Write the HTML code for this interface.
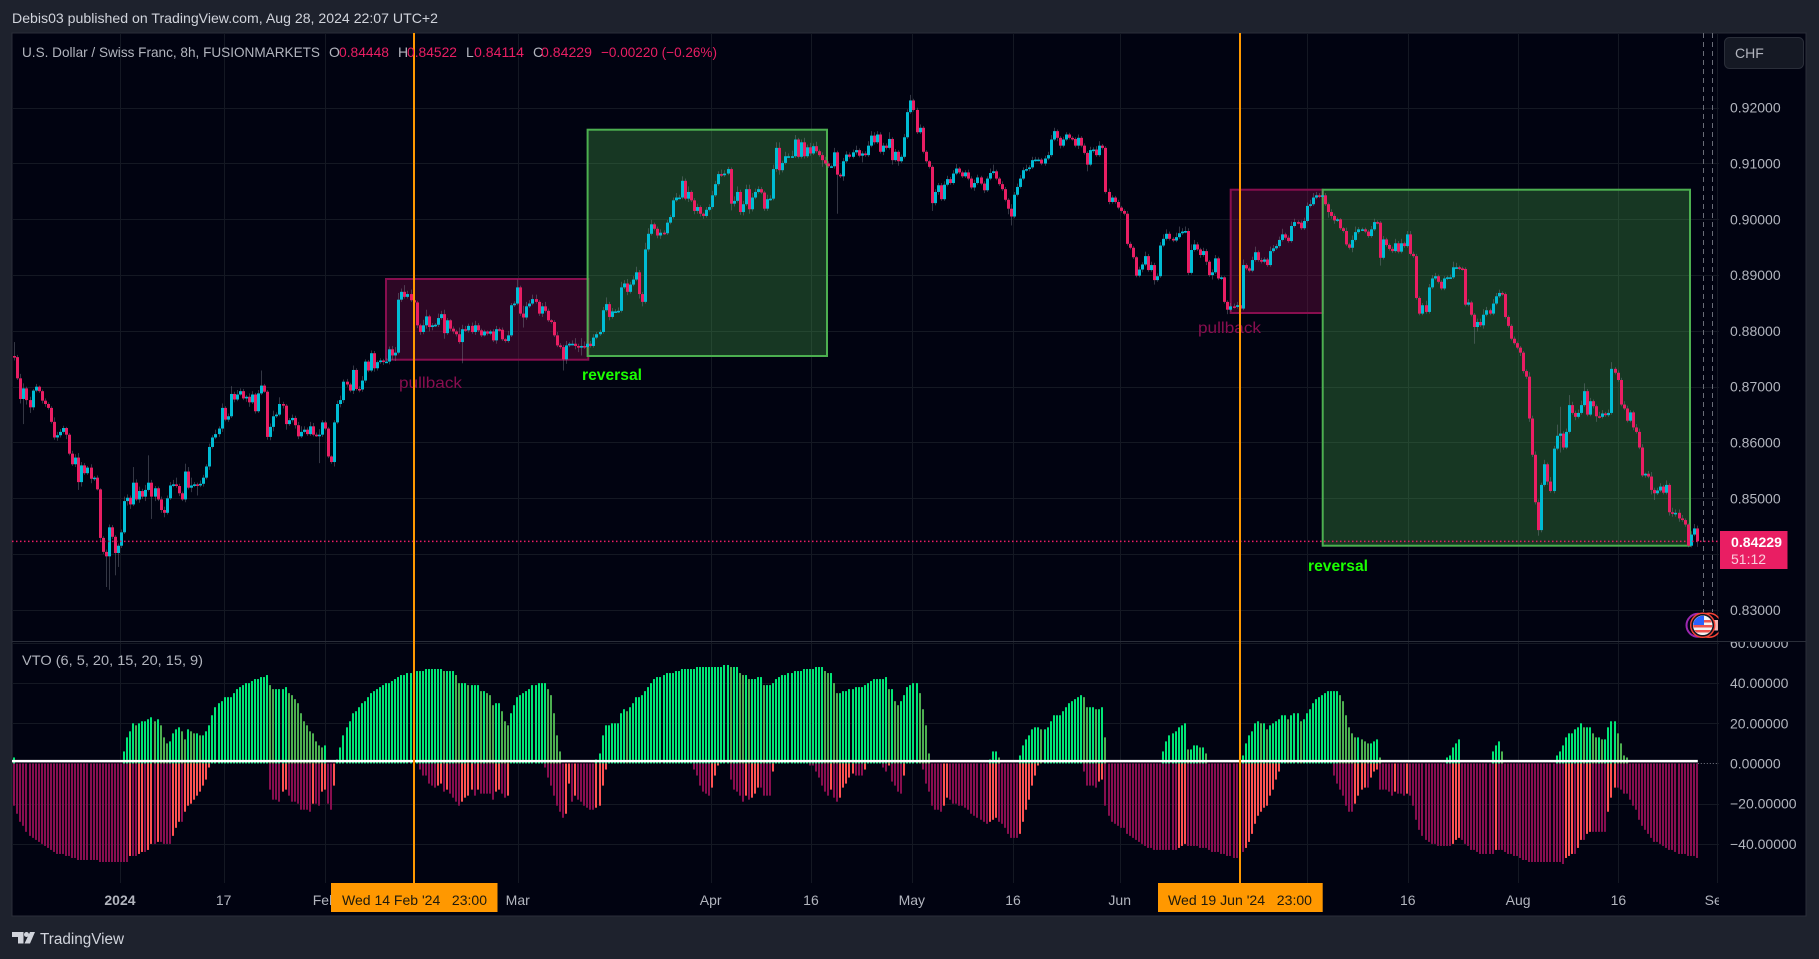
<!DOCTYPE html>
<html lang="en">
<head>
<meta charset="utf-8">
<title>USDCHF 8h chart with VTO</title>
<style>
html,body{margin:0;padding:0;background:#1e222d;}
svg{display:block;font-family:"Liberation Sans",sans-serif;}
</style>
</head>
<body>
<svg id="chart" xmlns="http://www.w3.org/2000/svg" width="1819" height="959" viewBox="0 0 1819 959">
  <defs>
    <clipPath id="clip-osc-axis"><rect x="1719" y="642" width="87" height="241"/></clipPath>
    <clipPath id="clip-time-axis"><rect x="12" y="883" width="1707" height="33"/></clipPath>
    <clipPath id="clip-flags"><rect x="1680" y="605" width="38.5" height="36"/></clipPath>
    <clipPath id="clip-flag-disc"><circle cx="1702.7" cy="625.3" r="9.5"/></clipPath>
  </defs>

  <rect x="0" y="0" width="1819" height="959" fill="#1e222d"/>
  <rect x="12" y="33" width="1794" height="883" fill="#010311" stroke="#2a2e39" stroke-width="1"/>
  <text x="12" y="23" font-size="14" fill="#d1d4dc" textLength="426" lengthAdjust="spacingAndGlyphs">Debis03 published on TradingView.com, Aug 28, 2024 22:07 UTC+2</text>

  <g id="grid"></g>

  <rect x="386" y="279" width="202.3" height="80.7" fill="rgba(136,14,79,.33)" stroke="#880e4f" stroke-width="2"/>
  <rect x="587.6" y="129.7" width="239.4" height="226.3" fill="rgba(76,175,80,.3)" stroke="#4caf50" stroke-width="2"/>
  <rect x="1230.7" y="189.7" width="92" height="123.3" fill="rgba(136,14,79,.33)" stroke="#880e4f" stroke-width="2"/>
  <rect x="1322.7" y="189.7" width="367.3" height="356" fill="rgba(76,175,80,.3)" stroke="#4caf50" stroke-width="2"/>

  <line x1="1703.5" y1="33" x2="1703.5" y2="612" stroke="#6a6d78" stroke-dasharray="5 4"/>
  <line x1="1712.5" y1="33" x2="1712.5" y2="612" stroke="#6a6d78" stroke-dasharray="5 4"/>

  <g id="candles"></g>
  <g id="histogram"></g>
  <line id="signal-line" stroke="#ffffff" stroke-width="2.5"/>
  <line id="zero-dots" stroke="#787b86" stroke-dasharray="1 2"/>
  <line id="last-price-line" stroke="#e91e63" stroke-width="1.5" stroke-dasharray="1.5 2.5"/>

  <text x="399" y="388" font-size="16" fill="#880e4f" textLength="63" lengthAdjust="spacingAndGlyphs">pullback</text>
  <text x="582" y="380" font-size="16" font-weight="bold" fill="#1aff00" textLength="60" lengthAdjust="spacingAndGlyphs">reversal</text>
  <text x="1198" y="333" font-size="16" fill="#880e4f" textLength="63" lengthAdjust="spacingAndGlyphs">pullback</text>
  <text x="1308" y="571" font-size="16" font-weight="bold" fill="#1aff00" textLength="60" lengthAdjust="spacingAndGlyphs">reversal</text>

  <line x1="12" y1="641.5" x2="1806" y2="641.5" stroke="#2a2e39" stroke-width="1"/>

  <line x1="414" y1="33" x2="414" y2="883" stroke="#ff9800" stroke-width="2"/>
  <line x1="1240" y1="33" x2="1240" y2="883" stroke="#ff9800" stroke-width="2"/>

  <g font-size="14">
    <text x="22" y="57" fill="#b2b5be" textLength="298" lengthAdjust="spacingAndGlyphs">U.S. Dollar / Swiss Franc, 8h, FUSIONMARKETS</text>
    <text x="329" y="57" fill="#b2b5be">O</text>
    <text x="339" y="57" fill="#e91e63" textLength="50" lengthAdjust="spacingAndGlyphs">0.84448</text>
    <text x="398" y="57" fill="#b2b5be">H</text>
    <text x="407" y="57" fill="#e91e63" textLength="50" lengthAdjust="spacingAndGlyphs">0.84522</text>
    <text x="466" y="57" fill="#b2b5be">L</text>
    <text x="474" y="57" fill="#e91e63" textLength="50" lengthAdjust="spacingAndGlyphs">0.84114</text>
    <text x="533" y="57" fill="#b2b5be">C</text>
    <text x="541" y="57" fill="#e91e63" textLength="51" lengthAdjust="spacingAndGlyphs">0.84229</text>
    <text x="601" y="57" fill="#e91e63" textLength="116" lengthAdjust="spacingAndGlyphs">−0.00220 (−0.26%)</text>
  </g>
  <text x="22" y="665" font-size="14" fill="#b2b5be" textLength="181" lengthAdjust="spacingAndGlyphs">VTO (6, 5, 20, 15, 20, 15, 9)</text>

  <g id="price-axis" font-size="14" fill="#b2b5be"></g>
  <g id="osc-axis" font-size="14" fill="#b2b5be" clip-path="url(#clip-osc-axis)"></g>
  <g id="time-axis" font-size="14" fill="#b2b5be" clip-path="url(#clip-time-axis)"></g>

  <g>
    <rect x="1724.5" y="37.5" width="79" height="31" rx="5" fill="#151924" stroke="#2a2e39"/>
    <text x="1735" y="58" font-size="14" fill="#b2b5be">CHF</text>
  </g>

  <g>
    <rect x="1720" y="531" width="67.5" height="38" fill="#e91e63"/>
    <text x="1731" y="547" font-size="14" font-weight="bold" fill="#ffffff" textLength="51" lengthAdjust="spacingAndGlyphs">0.84229</text>
    <text x="1731" y="564" font-size="14" fill="rgba(255,255,255,.78)">51:12</text>
  </g>

  <g clip-path="url(#clip-flags)">
    <circle cx="1698" cy="625.3" r="11.5" fill="#010311" stroke="#9c27b0" stroke-width="2"/>
    <circle cx="1709" cy="625.3" r="12" fill="#010311" stroke="#f44336" stroke-width="1.5"/>
    <rect x="1714" y="620" width="4" height="10.5" fill="#f3b4b2"/>
    <circle cx="1702.7" cy="625.3" r="12" fill="#010311" stroke="#f44336" stroke-width="1.5"/>
    <circle cx="1702.7" cy="625.3" r="10.5" fill="#ffffff" stroke="#131722" stroke-width="1.5"/>
    <g clip-path="url(#clip-flag-disc)">
      <rect x="1693" y="615" width="20" height="21" fill="#f2f2f2"/>
      <rect x="1693" y="620" width="20" height="2.5" fill="#ef5350"/>
      <rect x="1693" y="625" width="20" height="2.5" fill="#ef5350"/>
      <rect x="1693" y="630" width="20" height="2.5" fill="#ef5350"/>
      <rect x="1693" y="615" width="11" height="10" fill="#2962ff"/>
    </g>
  </g>

  <g>
    <rect x="331" y="883" width="166.5" height="29" fill="#ff9800"/>
    <text x="342" y="905" font-size="14" fill="#1e1a0d" xml:space="preserve" textLength="145" lengthAdjust="spacingAndGlyphs">Wed 14 Feb '24   23:00</text>
  </g>
  <g>
    <rect x="1158" y="883" width="164.7" height="29" fill="#ff9800"/>
    <text x="1168" y="905" font-size="14" fill="#1e1a0d" xml:space="preserve" textLength="144" lengthAdjust="spacingAndGlyphs">Wed 19 Jun '24   23:00</text>
  </g>

  <g>
    <polygon points="12,932 23.5,932 23.5,943.5 18,943.5 18,937 12,937" fill="#d1d4dc"/>
    <circle cx="26.5" cy="934.5" r="2.5" fill="#d1d4dc"/>
    <polygon points="30,932 35,932 30,943.5 24.5,943.5" fill="#d1d4dc"/>
    <text x="40" y="944" font-size="15.5" fill="#d1d4dc" textLength="84" lengthAdjust="spacingAndGlyphs">TradingView</text>
  </g>
</svg>

<script>
// Close of every 8h bar, price x 10000; each bar opens at the previous close
const firstOpen = 8755;
const closes = [
8753,8715,8678,8697,8676,8663,8693,8700,8692,8675,
8669,8662,8637,8609,8613,8619,8626,8614,8580,8561,
8573,8529,8559,8545,8555,8535,8537,8516,8429,8404,
8396,8448,8431,8402,8415,8439,8495,8501,8489,8528,
8498,8513,8503,8515,8528,8503,8518,8498,8479,8474,
8500,8523,8525,8522,8509,8498,8548,8519,8523,8525,
8523,8526,8537,8557,8592,8609,8615,8625,8662,8641,
8647,8687,8677,8686,8692,8679,8682,8672,8686,8656,
8688,8702,8691,8610,8628,8647,8650,8669,8666,8633,
8640,8644,8631,8611,8619,8623,8615,8629,8614,8613,
8614,8636,8625,8575,8565,8636,8669,8676,8709,8704,
8693,8730,8696,8695,8711,8745,8729,8760,8733,8744,
8747,8745,8745,8767,8756,8761,8856,8870,8861,8866,
8855,8851,8810,8798,8810,8826,8807,8810,8811,8823,
8830,8796,8819,8804,8799,8794,8780,8803,8801,8809,
8798,8810,8801,8792,8799,8795,8799,8783,8803,8802,
8785,8782,8792,8846,8849,8878,8831,8824,8844,8849,
8857,8852,8831,8844,8836,8819,8816,8792,8774,8771,
8749,8774,8777,8777,8773,8770,8773,8771,8777,8773,
8788,8794,8798,8837,8848,8825,8835,8835,8836,8878,
8885,8870,8883,8892,8905,8866,8852,8946,8974,8991,
8983,8971,8976,8975,8994,9004,9034,9039,9039,9069,
9037,9049,9034,9015,9022,9010,9006,9017,9022,9043,
9063,9081,9079,9082,9090,9028,9033,9049,9013,9027,
9054,9018,9039,9049,9054,9048,9019,9036,9037,9090,
9128,9088,9101,9113,9113,9113,9143,9112,9138,9113,
9129,9118,9131,9122,9115,9106,9100,9095,9095,9120,
9080,9077,9104,9116,9112,9120,9124,9114,9118,9115,
9132,9150,9138,9152,9121,9132,9128,9144,9106,9121,
9104,9112,9147,9192,9213,9196,9156,9164,9121,9104,
9094,9029,9049,9061,9036,9062,9072,9065,9082,9091,
9084,9077,9084,9073,9057,9065,9075,9064,9052,9073,
9083,9086,9073,9063,9054,9035,9019,9005,9044,9058,
9073,9088,9090,9093,9106,9107,9107,9100,9109,9115,
9143,9158,9146,9132,9143,9152,9146,9144,9132,9146,
9132,9119,9098,9124,9125,9115,9132,9128,9049,9031,
9039,9031,9021,9015,9010,8956,8949,8932,8899,8910,
8919,8934,8909,8918,8891,8898,8953,8965,8974,8965,
8962,8968,8975,8978,8979,8904,8945,8955,8946,8936,
8943,8924,8900,8905,8930,8894,8896,8852,8838,8844,
8843,8846,8840,8918,8912,8908,8927,8941,8927,8924,
8928,8918,8943,8948,8952,8963,8973,8967,8961,8988,
8995,8994,8984,8997,9024,9027,9039,9043,9041,9043,
9027,9013,9006,8998,9000,8984,8979,8955,8949,8963,
8977,8982,8982,8978,8970,8982,8995,8994,8931,8964,
8954,8947,8943,8957,8942,8957,8952,8973,8938,8934,
8859,8831,8846,8834,8878,8894,8898,8888,8876,8894,
8896,8896,8914,8914,8912,8911,8847,8851,8829,8807,
8816,8810,8829,8837,8831,8849,8862,8868,8866,8825,
8809,8786,8778,8770,8761,8728,8718,8643,8578,8493,
8443,8524,8561,8530,8513,8589,8612,8616,8591,8619,
8667,8653,8646,8653,8667,8692,8650,8674,8665,8647,
8646,8652,8649,8653,8732,8725,8712,8668,8661,8639,
8654,8627,8619,8591,8541,8544,8539,8515,8509,8514,
8521,8510,8524,8475,8473,8474,8464,8461,8453,8415,
8435,8446,8423];

// Wick length above / below the candle body, in 0.0001 price units
const upperWicks = [
25,4,8,9,3,6,3,5,2,3, 4,3,3,8,6,5,4,2,3,5, 6,8,6,4,3,6,3,4,2,3, 4,5,4,3,4,5,8,6,4,28,
6,8,4,9,49,5,4,3,5,6, 5,6,8,12,4,3,14,8,14,4, 3,6,5,4,6,4,8,4,8,3, 5,14,4,8,5,4,3,6,6,3,
6,27,3,3,6,10,4,12,4,3, 4,6,4,6,10,6,4,8,6,4, 10,4,3,3,2,4,6,8,4,5, 3,8,3,5,8,4,3,5,4,3,
4,3,6,5,6,10,12,6,12,6, 8,4,3,3,10,12,3,4,3,8, 6,8,4,2,4,3,12,8,6,4, 6,8,4,3,3,2,3,4,6,3,
4,2,8,4,4,14,3,14,8,6, 8,8,3,6,8,4,2,3,6,4, 4,8,3,6,10,4,14,8,6,5, 6,4,4,6,12,4,6,4,6,10,
6,8,5,6,10,4,4,12,10,8, 3,4,6,4,5,4,5,8,5,8, 4,10,3,4,6,3,2,5,5,8, 6,5,8,6,4,3,8,10,4,6,
8,8,8,6,5,4,3,8,6,8, 10,10,4,8,5,10,8,3,5,8, 5,8,5,8,3,5,6,4,3,8, 3,3,6,6,4,5,8,3,4,4,
8,8,6,6,4,5,4,12,3,5, 3,4,6,5,10,3,4,6,3,3, 2,3,5,4,4,6,6,4,6,8, 3,3,4,5,4,6,5,3,4,4,
8,12,3,3,5,4,3,8,5,6, 6,5,8,4,6,5,4,3,5,6, 8,6,3,3,5,4,3,3,3,6, 3,4,3,6,4,6,8,3,3,6,
4,3,4,3,3,5,4,3,2,5, 4,8,4,6,4,5,6,8,8,4, 3,8,12,6,8,5,10,8,4,3, 6,4,3,5,6,3,3,2,3,6,
5,6,8,10,3,3,6,10,3,4, 4,3,8,6,4,6,10,3,4,8, 6,3,4,6,6,8,8,6,4,8, 4,3,5,4,3,2,2,6,3,8,
10,4,3,3,3,6,6,3,3,6, 3,3,4,8,4,8,3,6,6,4, 4,3,4,8,6,6,6,3,3,4, 3,5,10,8,3,3,3,6,3,3,
6,6,10,6,3,8,6,6,3,3, 3,3,4,3,3,3,3,8,5,6, 5,4,8,3,8,5,20,48,4,6, 18,6,4,6,8,14,4,6,3,3,
8,6,3,6,12,3,4,4,6,5, 4,3,6,6,6,2,5,8,4,5, 6,3,8,3,8,6,6,6,3,2, 6,8,5];
const lowerWicks = [
6,3,8,45,8,10,5,3,3,5, 5,3,3,4,6,4,3,8,3,3, 5,14,8,3,3,8,4,2,6,4, 55,60,4,40,25,4,3,8,8,3,
3,6,4,8,3,40,8,3,5,8, 3,3,3,3,5,3,5,3,8,3, 18,3,5,3,6,3,3,5,6,3, 4,3,5,3,2,3,6,8,3,4,
3,3,2,5,6,8,3,3,5,10, 3,4,6,5,3,3,3,3,3,3, 50,4,3,3,3,8,3,6,5,4, 3,6,3,5,4,4,3,3,6,4,
3,6,2,5,8,10,3,4,3,3, 3,3,5,5,4,6,8,6,3,4, 3,10,3,4,4,4,3,38,3,4, 3,5,3,3,2,3,3,3,6,3,
3,3,3,3,3,3,4,18,4,3, 3,3,4,6,3,3,3,3,3,3, 20,8,3,3,6,8,14,3,3,3, 3,3,3,3,3,6,3,3,3,3,
3,6,3,3,3,8,8,3,4,3, 3,5,6,3,3,3,3,3,3,3, 3,6,3,6,5,5,5,3,3,3, 3,3,3,3,3,12,5,3,5,6,
3,8,4,3,3,3,4,4,3,3, 5,8,4,3,3,3,3,3,3,4, 3,4,3,3,3,12,3,3,3,4, 70,3,8,3,3,3,4,3,12,3,
3,3,4,3,3,6,3,3,8,3, 8,3,3,3,3,3,3,3,3,3, 3,14,4,5,3,3,3,3,3,3, 3,3,3,3,3,6,3,3,5,3,
3,3,3,3,3,3,10,16,3,3, 3,3,3,4,3,3,3,3,4,3, 3,3,6,5,3,3,3,3,3,6, 3,3,12,3,5,3,3,3,3,4,
3,3,3,3,3,3,3,3,3,3, 5,3,3,3,8,3,3,3,3,3, 3,3,3,3,3,4,3,3,3,5, 3,6,3,8,3,3,3,3,8,3,
3,3,6,3,3,3,3,3,3,3, 3,3,3,3,3,3,3,3,3,3, 3,3,3,3,3,3,3,3,3,3, 3,10,5,6,3,3,3,3,3,8,
3,3,3,3,3,3,3,3,14,3, 3,3,3,3,3,3,3,3,3,3, 3,3,3,3,3,3,3,3,3,3, 3,3,3,3,3,3,3,3,3,30,
8,3,6,3,3,3,3,3,3,3, 3,3,3,3,6,4,4,6,4,4, 10,4,3,6,3,4,3,30,4,3, 3,3,6,3,3,3,3,3,4,10,
3,3,3,3,3,3,3,3,3,3, 3,5,3,3,3,4,3,8,12,3, 3,3,3,6,6,6,6,3,4,3, 3,3,10];

// VTO histogram: positive side per bar
const bullValues = [
3,0,0,0,0,0,0,0,0,0, 0,0,0,0,0,0,0,0,0,0, 0,0,0,0,0,0,0,0,0,0, 0,0,0,0,0,0,
6,13,16,20,19,20,21,21,22,23, 21,22,19,13,10,11,15,17,18,16, 12,17,16,15,15,14,14,16,19,24,
28,30,31,33,33,33,35,37,38,39, 40,40,41,42,42,43,43,44,39,37, 37,37,37,38,35,34,32,30,25,21,
19,16,15,11,9,8,9, 0,0,0,
2,8,14,18,21,25,26,28,30,31, 33,35,36,37,38,39,40,40,41,42, 43,44,44,45,45,46,46,46,46,47,
47,47,47,47,47,46,46,46,46,44, 40,40,40,39,39,39,39,36,36,35, 34,29,30,30,26,21,19,25,29,33,
34,35,36,37,39,39,40,40,40,37, 34,25,14,6,
0,0,0,0,0,0,0,0,0,0,0, 2,
5,14,19,19,20,20,20,25,27,26, 28,30,33,33,34,36,38,40,42,43, 43,44,45,45,45,46,46,47,47,47,
47,47,48,48,48,48,48,48,48,48, 48,49,49,48,48,48,45,44,44,42, 42,42,43,43,39,39,39,40,42,43,
44,44,45,45,46,46,46,47,47,47, 47,48,48,48,46,45,45,40,35,35, 36,36,37,37,38,38,38,39,40,41,
42,42,42,42,43,37,37,31,29,31, 34,38,39,40,40,35,27,19,5,
0,0,0,0,0,0,0,0,0,0,0,0,0,0,0,0,0,0,0,
2,6,6,3, 0,0,0,0,0,0,
4,9,12,14,17,18,18,17,17,18, 21,24,24,24,26,28,30,31,32,33, 34,33,28,28,28,27,27,28,13,
0,0,0,0,0,0,0,0,0,0,0,0,0,0,0,0,0,0,
6,11,14,15,16,18,19,20, 7,7,9,9,8,8,5,
0,0,0,0,0,0,0,0,0,0,0,
4,10,14,16,20,21,20,20,17,19, 20,21,22,24,24,22,24,25,25,21, 22,25,27,30,32,33,34,35,36,36,
36,36,34,31,24,18,15,13,13,12, 11,10,10,11,12, 3,
0,0,0,0,0,0,0,0,0,0,0,0,0,0,0,0,0,0,0,0,0,
3,4,8,10,12, 0,0,0,0,0,0,0,0,0,0, 6,9,11,6,
0,0,0,0,0,0,0,0,0,0,0,0,0,0,0,0,0,
4,6,9,13,15,15,17,18,20,18, 18,18,15,13,13,12,12,18,21,21, 15,10,4,3,
0,0,0,0,0,0,0,0,0,0,0,0,0,0,0,0,0,0,0,0,0,0,0];

// VTO histogram: depth of the negative side per bar (plotted below zero)
const bearDepths = [
21,25,29,31,34,36,37,38,39,40, 41,42,43,44,45,45,45,46,46,47, 47,48,48,48,48,48,48,48,49,49,
49,49,49,49,49,49,49,49,46,46, 46,45,44,44,43,40,40,39,39,40, 40,40,36,32,29,29,24,21,20,18,
16,14,11,8,2,
0,0,0,0,0,0,0,0,0,0,0,0,0,0,0,0,0,0,0,
13,18,18,19,14,13,16,19,19,20, 23,23,23,24,20,20,21,14,13,20, 23,11,
0,0,0,0,0,0,0,0,0,0,0,0,0,0,0,0,0,0,0,0,0,0,0,0,0,0,0,
3,6,6,10,11,12,11,10,14,13, 15,17,19,21,19,17,16,13,16,13, 15,15,15,15,18,14,13,15,17,16,
0,0,0,0,0,0,0,0,0,0,0,
2,7,11,16,21,24,27,25,10,19, 16,18,19,21,22,23,23, 22,21,11,3,
0,0,0,0,0,0,0,0,0,0,0,0,0,0,0,0,0,0,0,0,0,0,0,0,0,0,0,0,
3,6,11,14,15,16,12,6,1, 0,0,0,
8,13,14,16,19,16,18,17,15,12, 12,16,16,16,4,
0,0,0,0,0,0,0,0,0,0,0,
1,1,4,7,11,14,16,13,17,19, 17,12,10,7,5,6,6,6,3, 0,0,0,0,0,
2,4,1,9,11,14,15,6, 0,0,0,0,0,
3,10,14,21,23,23,24,21,17,18, 20,20,21,21,22,23,25,26,27,28, 29,30,29,28,27,29,30,32,35,37,
37,37,35,29,23,18,11,6,1,
0,0,0,0,0,0,0,0,0,0,0,0,0,0,
4,11,11,11,12,9,8,21,26,29, 30,31,32,32,35,36,37,38,39,40, 41,42,42,43,43,43,43,43,43,43,
43,42,41,40,41,41,41,41,
42,42,42,43,44,44,44,45,45,46, 46,47,47,44,44,42,39,35,30,26, 24,22,21,16,13,8,4,
0,0,0,0,0,0,0,0,0,0,0,0,0,0,0,0,0,
6,10,13,16,21,24,24,20,16,13, 12,12,7,4,3,13,13,13,14,16, 14,15,15,16,15,16,21,28,33,36,
38,39,40,40,41,41,41,41,41,40, 38,37,38,40,41,43,43,44,45,45, 45,45,45,43,43,43,44,45,45,46,
46,47,48,48,49,49,49,49,49,49, 49,49,49,49,49,50,47,46,45,45, 42,38,38,35,34,34,34,34,34,34,
24,17,12,12,13,15,15,18,21,23, 28,31,33,35,37,39,39,40,41,42, 43,43,44,45,45,45,46,46,46,47];

const signalLevel = 1.2;
const lastPrice = 0.84229;
const priceTickLabels = ["0.92000","0.91000","0.90000","0.89000","0.88000","0.87000","0.86000","0.85000","0.83000"];
const priceGridLevels = [0.92,0.91,0.90,0.89,0.88,0.87,0.86,0.85,0.84,0.83];
const oscTickValues = [60,40,20,0,-20,-40];
const oscTickLabels = ["60.00000","40.00000","20.00000","0.00000","−20.00000","−40.00000"];
const timeTickBars = [35,69,102.2,165.5,228.8,261.7,294.8,328,363,424.5,457.5,493.7,526.6,559];
const timeTickLabels = ["2024","17","Feb","Mar","Apr","16","May","16","Jun","Jul","16","Aug","16","Sep"];

const SVGNS = "http://www.w3.org/2000/svg";
const barX0 = 14.3, barStep = 3.048;
function xOf(i){ return barX0 + i * barStep; }
function yPrice(p){ return 498.3 + (0.85 - p) * 5580; }
function yScaled(v){ return yPrice(v / 10000); }
function yOsc(v){ return 763.5 - v * 2.01; }
function make(tag){ return document.createElementNS(SVGNS, tag); }
function rectAt(el, x, y, w, h, fill){
  el.setAttribute("x", x);
  el.setAttribute("y", y);
  el.setAttribute("width", w);
  el.setAttribute("height", h);
  el.setAttribute("fill", fill);
}

// Grid
const gridG = document.getElementById("grid");
function gridLine(x1, y1, x2, y2){
  const l = make("line");
  
  
  l.setAttribute("x1", x1);
  l.setAttribute("y1", y1);
  l.setAttribute("x2", x2);
  l.setAttribute("y2", y2);
  l.setAttribute("stroke", "#141823");
  gridG.appendChild(l);
}
priceGridLevels.forEach(function(p){
  const y = Math.round(yPrice(p)) + 0.5;
  gridLine(12, y, 1719, y);
});
oscTickValues.forEach(function(v){
  if (v === 0) return;
  const y = Math.round(yOsc(v)) + 0.5;
  gridLine(12, y, 1719, y);
});
timeTickBars.forEach(function(b){
  const x = Math.round(xOf(b)) - 0.5;
  gridLine(x, 33, x, 641);
  gridLine(x, 642, x, 883);
});

// Candles
const candleG = document.getElementById("candles");
closes.forEach(function(c, i){
  const o = i === 0 ? firstOpen : closes[i - 1];
  const up = c >= o;
  const color = up ? "#00bcd4" : "#e91e63";
  const top = Math.max(o, c), bot = Math.min(o, c);
  const cx = Math.round(xOf(i));
  const w = make("rect");
  
  
  const wy1 = yScaled(top + upperWicks[i]), wy2 = yScaled(bot - lowerWicks[i]);
  rectAt(w, cx, wy1, 1, wy2 - wy1, "rgba(125,128,140,.42)");
  candleG.appendChild(w);
  const b = make("rect");
  
  
  const by = yScaled(top);
  rectAt(b, cx - 1, by, 3, Math.max(1.6, yScaled(bot) - by), color);
  candleG.appendChild(b);
});

// Histogram
const histG = document.getElementById("histogram");
bearDepths.forEach(function(d, i){
  if (d <= 0) return;
  const prev = i > 0 ? bearDepths[i - 1] : d;
  const r = make("rect");
  
  
  rectAt(r, Math.round(xOf(i)) - 1, yOsc(0), 2, yOsc(-d) - yOsc(0), d >= prev ? "#880e4f" : "#ff5252");
  histG.appendChild(r);
});
bullValues.forEach(function(v, i){
  if (v <= 0) return;
  const prev = i > 0 ? bullValues[i - 1] : 0;
  const r = make("rect");
  
  
  rectAt(r, Math.round(xOf(i)) - 1, yOsc(v), 2, yOsc(0) - yOsc(v), v >= prev ? "#00e676" : "#4caf50");
  histG.appendChild(r);
});

// Lines
const sig = document.getElementById("signal-line");
sig.setAttribute("x1", 12);
sig.setAttribute("x2", xOf(closes.length - 1) + 1);
sig.setAttribute("y1", yOsc(signalLevel));
sig.setAttribute("y2", yOsc(signalLevel));
const zd = document.getElementById("zero-dots");
zd.setAttribute("x1", xOf(closes.length - 1) + 1);
zd.setAttribute("x2", 1719);
zd.setAttribute("y1", yOsc(0));
zd.setAttribute("y2", yOsc(0));
const lp = document.getElementById("last-price-line");
lp.setAttribute("x1", 12);
lp.setAttribute("x2", 1719);
lp.setAttribute("y1", yPrice(lastPrice));
lp.setAttribute("y2", yPrice(lastPrice));

// Axes
const priceAxis = document.getElementById("price-axis");
priceTickLabels.forEach(function(label){
  const t = make("text");
  
  
  t.setAttribute("x", 1730);
  t.setAttribute("y", yPrice(parseFloat(label)) + 5);
  t.textContent = label;
  priceAxis.appendChild(t);
});
const oscAxis = document.getElementById("osc-axis");
oscTickLabels.forEach(function(label, i){
  const t = make("text");
  
  
  t.setAttribute("x", 1730);
  t.setAttribute("y", yOsc(oscTickValues[i]) + 5);
  t.textContent = label;
  oscAxis.appendChild(t);
});
const timeAxis = document.getElementById("time-axis");
timeTickLabels.forEach(function(label, i){
  const t = make("text");
  
  
  t.setAttribute("x", xOf(timeTickBars[i]) - 1);
  t.setAttribute("y", 905);
  t.setAttribute("text-anchor", "middle");
  if (label === "2024") t.setAttribute("font-weight", "bold");
  t.textContent = label;
  timeAxis.appendChild(t);
});
</script>
</body>
</html>
